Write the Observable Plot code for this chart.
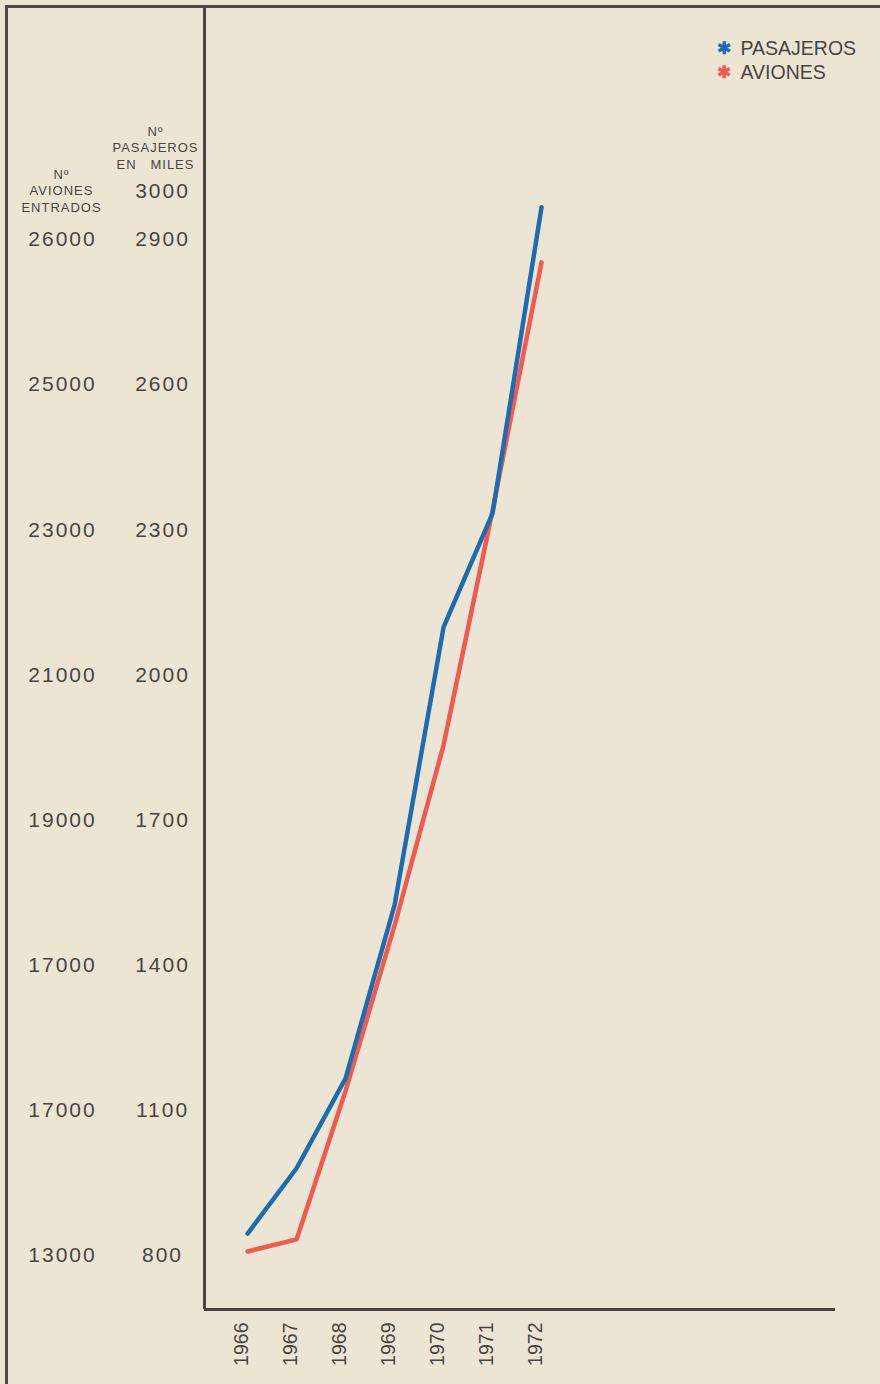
<!DOCTYPE html>
<html>
<head>
<meta charset="utf-8">
<script src="https://cdn.jsdelivr.net/npm/d3@7"></script>
<script src="https://cdn.jsdelivr.net/npm/@observablehq/plot@0.6"></script>
<style>
  html, body { margin: 0; padding: 0; background: #f2ecd0; }
  #wrap { position: relative; width: 880px; height: 1384px; background: #ece5d4; }
  #border { position: absolute; left: 5px; top: 5px; right: 0; bottom: 0; border-left: 3px solid #4f4a44; border-top: 3px solid #4f4a44; pointer-events: none; }
  svg { display: block; }
  [aria-label="ticks"], [aria-label="ticks"] text { letter-spacing: 2px; }
  [aria-label="header"], [aria-label="header"] tspan { letter-spacing: 1px; }
</style>
</head>
<body>
<div id="wrap"><div id="border"></div></div>
<script>
// Data
const years = [1966, 1967, 1968, 1969, 1970, 1971, 1972];
const pasajeros = [845, 980, 1166, 1524, 2099, 2334, 2967];          // thousands of passengers
const avionesOnAxis = [808, 833, 1140, 1482, 1855, 2340, 2853];      // planes, placed on the shared vertical axis
const pasajerosTicks = [3000, 2900, 2600, 2300, 2000, 1700, 1400, 1100, 800];
const avionesTickLabels = ["26000", "25000", "23000", "21000", "19000", "17000", "17000", "13000"];
const avionesTickAt = [2900, 2600, 2300, 2000, 1700, 1400, 1100, 800];
const legendLabels = ["PASAJEROS", "AVIONES"];
const legendColors = ["#1d6cb2", "#f25a4f"];

const table = [
  ...years.map((y, i) => ({year: y, value: pasajeros[i], serie: "PASAJEROS"})),
  ...years.map((y, i) => ({year: y, value: avionesOnAxis[i], serie: "AVIONES"}))
];

const xDomain = [1965.12, 1978];
const yDomain = [688, 3382];
const ink = "#4a453f";
const font = "'Liberation Sans', Arial, sans-serif";

const legendMarks = legendLabels.flatMap((label, i) => [
  Plot.text([label], {frameAnchor: "top-left", dx: 519, dy: 35 + i * 24, text: () => "✱", fill: legendColors[i], fontSize: 17, textAnchor: "middle", fontWeight: "bold"}),
  Plot.text([label], {frameAnchor: "top-left", dx: 536, dy: 35 + i * 24, text: d => d, fill: ink, fontSize: 19.5, textAnchor: "start"})
]);

const chart = Plot.plot({
  width: 880,
  height: 1384,
  marginLeft: 204,
  marginRight: 45,
  marginTop: 6,
  marginBottom: 75,
  style: {background: "transparent", fontFamily: font, color: ink, overflow: "visible"},
  x: {domain: xDomain, axis: null},
  y: {domain: yDomain, axis: null},
  marks: [
    Plot.ruleX([xDomain[0]], {stroke: ink, strokeWidth: 3}),
    Plot.ruleY([yDomain[0]], {stroke: ink, strokeWidth: 3}),
    Plot.line(table.filter(d => d.serie === "AVIONES"), {x: "year", y: "value", stroke: legendColors[1], strokeWidth: 4.5, strokeLinejoin: "miter"}),
    Plot.line(table.filter(d => d.serie === "PASAJEROS"), {x: "year", y: "value", stroke: legendColors[0], strokeWidth: 4.5, strokeLinejoin: "miter"}),
    // passenger tick labels
    Plot.text(pasajerosTicks, {y: d => d, text: d => String(d), frameAnchor: "left", dx: -42, textAnchor: "middle", fontSize: 21, fill: ink, ariaLabel: () => "ticks"}),
    // plane tick labels
    Plot.text(avionesTickAt, {y: d => d, text: (d, i) => avionesTickLabels[i], frameAnchor: "left", dx: -142, textAnchor: "middle", fontSize: 21, fill: ink, ariaLabel: () => "ticks"}),
    // column headers
    Plot.text(["Nº\nPASAJEROS\nEN\u00a0\u00a0\u00a0MILES"], {frameAnchor: "top-left", dx: -49, dy: 117, textAnchor: "middle", lineAnchor: "top", lineHeight: 1.3, fontSize: 13, fill: ink, ariaLabel: () => "header"}),
    Plot.text(["Nº\nAVIONES\nENTRADOS"], {frameAnchor: "top-left", dx: -143, dy: 160, textAnchor: "middle", lineAnchor: "top", lineHeight: 1.3, fontSize: 13, fill: ink, ariaLabel: () => "header"}),
    // year labels
    Plot.text(years, {x: d => d, text: d => String(d), frameAnchor: "bottom", dy: 13, rotate: -90, textAnchor: "end", fontSize: 19.5, fill: ink}),
    // legend
    ...legendMarks
  ]
});

document.getElementById("wrap").appendChild(chart);
</script>
</body>
</html>
